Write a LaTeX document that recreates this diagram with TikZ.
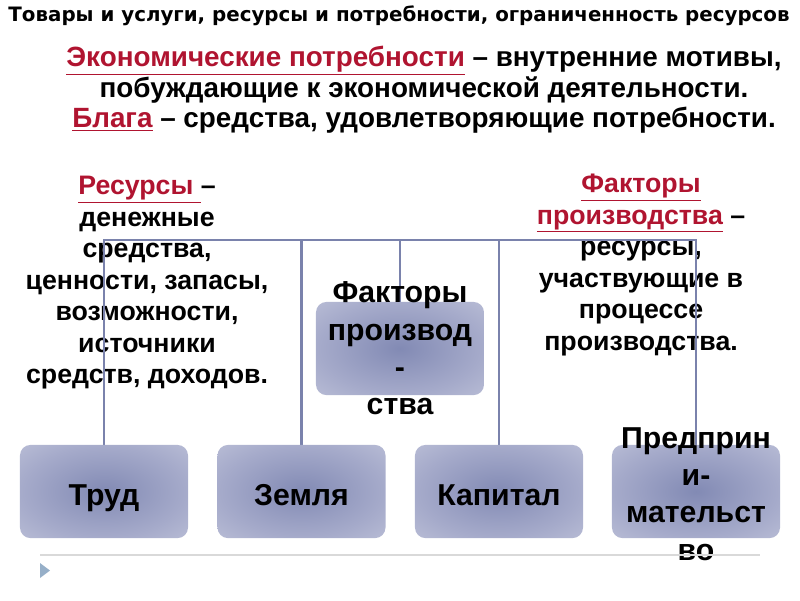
\documentclass[tikz,border=0pt]{standalone}
\usepackage{fontspec}
\setmainfont{Liberation Sans}
\newfontfamily\headfont{DejaVu Sans}
\usepackage{tikz}
\usetikzlibrary{backgrounds}
\definecolor{termred}{RGB}{176,20,48}
\definecolor{linkblue}{RGB}{122,130,172}
\definecolor{boxin}{RGB}{130,138,180}
\definecolor{boxmid}{RGB}{165,170,202}
\definecolor{boxout}{RGB}{206,209,226}
\pgfdeclareradialshading{boxglow}{\pgfpoint{0bp}{0bp}}{color(0bp)=(boxin); color(24bp)=(boxmid); color(50bp)=(boxout)}

\begin{document}
\begin{tikzpicture}[x=0.025cm, y=-0.025cm,
		factor/.style={rectangle, rounded corners=7.5pt, shading=boxglow, minimum width=4.2cm, minimum height=2.33cm, inner sep=0pt, text height=20pt, text depth=0.8pt, font=\bfseries\fontsize{21.5}{26}\selectfont},
		factortext/.style={align=center, font=\bfseries\fontsize{21.5}{26.5}\selectfont},
		defn/.style={align=center, font=\bfseries\fontsize{19}{22.4}\selectfont},
		link/.style={draw=linkblue, line width=2.1pt}]
			%%%%% START %%%%%
			\useasboundingbox (0, 0) rectangle (800, 600);
			
			\node (title) at (399, 16) {\headfont\bfseries\fontsize{14.1}{16}\selectfont Товары и услуги, ресурсы и потребности, ограниченность ресурсов};
			
			\node[align=center, font=\bfseries\fontsize{19.8}{21.6}\selectfont] (needs) at (424, 90) {{\color{termred}\underline{Экономические потребности}} – внутренние мотивы,\\побуждающие к экономической деятельности.\\{\color{termred}\underline{Блага}} – средства, удовлетворяющие потребности.};
			
			% boxes
			\node[factor] (fpr) at (400, 348.5) {};
			\node[factortext] (fprtext) at (fpr) {Факторы\\производ\\-\\ства};
			
			\node[factor] (trud) at (104, 491.5) {Труд};
			\node[factor] (zem) at (301.5, 491.5) {Земля};
			\node[factor] (kap) at (499, 491.5) {Капитал};
			\node[factor] (pred) at (696, 491.5) {};
			\node[factortext] (predtext) at (696, 494) {Предприн\\и-\\мательст\\во};
			
			\begin{scope}[on background layer]
				\node[defn] (res) at (147, 283) {{\color{termred}\underline{Ресурсы\ }}–\\денежные\\средства,\\ценности, запасы,\\возможности,\\источники\\средств, доходов.};
				\node[defn] (fpdef) at (641, 265) {{\color{termred}\underline{Факторы}}\\{\color{termred}\underline{производства}} –\\ресурсы,\\участвующие в\\процессе\\производства.};
				
				\coordinate (bar) at (400, 240);
				\draw[link] (trud.north) |- (bar) -| (pred.north);
				\draw[link] (zem.north) -- (zem.north |- bar);
				\draw[link] (kap.north) -- (kap.north |- bar);
				\draw[link] (fpr.north) -- (bar);
			\end{scope}
			
			\draw[line width=1.4pt, color=black!15] (40, 555) -- (760, 555);
			\fill[color={rgb,255:red,150;green,175;blue,200}] (40, 563) -- (50, 570.5) -- (40, 578) -- cycle;
			%%%%% END %%%%%
\end{tikzpicture}
\end{document}
